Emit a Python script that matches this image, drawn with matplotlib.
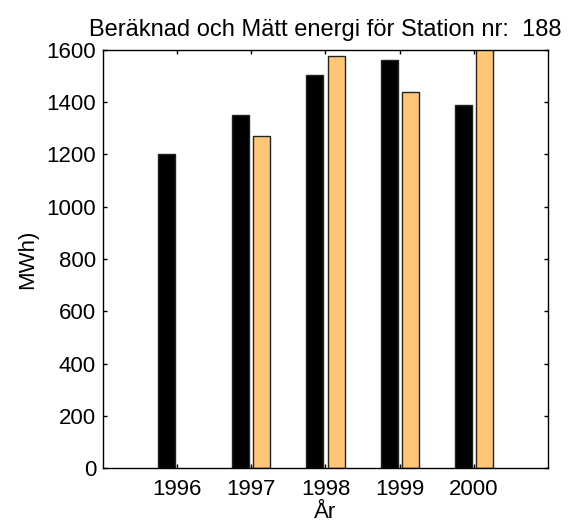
import matplotlib

matplotlib.use("Agg")
import matplotlib.pyplot as plt
import numpy as np

plt.rcParams["font.family"] = ["Liberation Sans", "DejaVu Sans"]

# Data
years = [1996, 1997, 1998, 1999, 2000]
beraknad = [1200, 1350, 1503, 1560, 1390]       # black bars
matt = [np.nan, 1270, 1577, 1440, 1700]         # orange bars (2000 clipped)
yticks = [0, 200, 400, 600, 800, 1000, 1200, 1400, 1600]

BLACK = "#000000"
ORANGE = "#ffc677"
W = 0.229
OFF = 0.143

fig = plt.figure(figsize=(5.72, 5.29), dpi=100)
ax = fig.add_axes([0.180, 0.1153, 0.778, 0.7902])

x = np.array(years, dtype=float)
ax.bar(x - OFF, beraknad, width=W, color=BLACK, edgecolor="#222222", linewidth=1.0)
ax.bar(x + OFF, matt, width=W, color=ORANGE, edgecolor="#222222", linewidth=1.0)

ax.set_xlim(1995, 2001)
ax.set_ylim(0, 1600)
ax.set_xticks(years)
ax.set_xticklabels([str(y) for y in years])
ax.set_yticks(yticks)

ax.tick_params(direction="in", top=True, right=True, length=3, width=1,
               labelsize=16)
ax.tick_params(axis="x", pad=8)
ax.tick_params(axis="y", pad=5)
for s in ax.spines.values():
    s.set_linewidth(1.0)

ax.set_title("Beräknad och Mätt energi för Station nr:  188", fontsize=17, pad=10)
ax.set_ylabel("MWh)", fontsize=16, labelpad=6)
ax.set_xlabel("År", fontsize=16, labelpad=1)

fig.savefig("out.png", dpi=100, facecolor="white")
